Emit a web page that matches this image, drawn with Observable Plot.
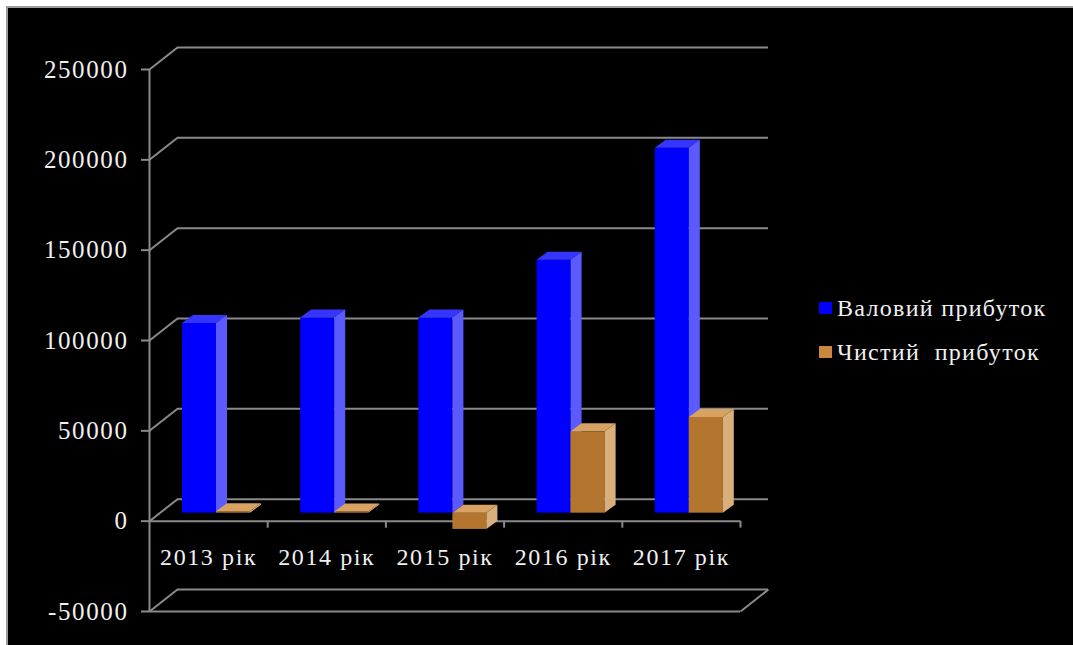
<!DOCTYPE html>
<html lang="uk">
<head>
<meta charset="utf-8">
<script src="https://cdn.jsdelivr.net/npm/d3@7"></script>
<script src="https://cdn.jsdelivr.net/npm/@observablehq/plot@0.6"></script>
<style>
  html, body { margin: 0; padding: 0; width: 1073px; height: 645px; overflow: hidden; background: #ffffff; position: relative; }
  #panel { position: absolute; left: 6px; top: 6px; right: 0; bottom: 0; background: #000; border-left: 2px solid #9c9c9c; border-top: 2px solid #9c9c9c; }
  #chart { position: absolute; left: 0; top: 0; }
  #legend { position: absolute; left: 819px; top: 288px; font-family: "Liberation Serif", "Times New Roman", serif; font-size: 24px; letter-spacing: 1.3px; color: #f0f0f0; }
  #legend .row { display: flex; align-items: center; height: 40px; margin-bottom: 4px; white-space: pre; }
  #legend .sw { width: 13px; height: 12px; margin-right: 5px; }
</style>
</head>
<body>
<div id="panel"></div>
<div id="chart"></div>
<div id="legend"></div>
<script>
// Gross and net profit by year
const years = ["2013 рік", "2014 рік", "2015 рік", "2016 рік", "2017 рік"];
const grossProfit = [105000, 108000, 108000, 140000, 202000];
const netProfit = [800, 600, -9000, 45000, 53000];
const yTicks = [-50000, 0, 50000, 100000, 150000, 200000, 250000];
const seriesNames = ["Валовий прибуток", "Чистий  прибуток"];

// Face colours for each series: front, top, side
const seriesColors = [
  {front: "#0000ff", top: "#3535ff", side: "#5a5aff", key: "#0000ff"},
  {front: "#b4762e", top: "#d7a262", side: "#d9b07c", key: "#c8873c"}
];

// Pseudo-3D geometry (pixels), converted to data units below
const W = 1073, H = 645;
const mL = 149, mR = 333, mT = 69, mB = 34;
const yMin = -50000, yMax = 250000;
const ux = years.length / (W - mL - mR);      // category units per pixel
const uy = (yMax - yMin) / (H - mT - mB);     // value units per pixel

const wallDX = 28 * ux, wallDY = 22 * uy;     // depth of the back wall
const barDX0 = 10 * ux, barDY0 = 8 * uy;      // bars sit a little behind the front edge
const barDX = 11 * ux, barDY = 8 * uy;        // depth of each bar
const barLeft = 23 * ux, barW = 34 * ux;

const series = [grossProfit, netProfit];
const bars = series.map((vals, s) => vals.map((v, i) => {
  const xl = i + barLeft + s * barW + barDX0;
  return {id: s + "-" + i, s, v, xl, xr: xl + barW,
          yb: Math.min(v, 0) + barDY0, yt: Math.max(v, 0) + barDY0};
}));

const topPts = b => b.flatMap(d => [
  {id: d.id, y: d.yt, x1: d.xl, x2: d.xr},
  {id: d.id, y: d.yt + barDY, x1: d.xl + barDX, x2: d.xr + barDX}
]);
const sidePts = b => b.flatMap(d => [
  {id: d.id, x: d.xr, y1: d.yb, y2: d.yt},
  {id: d.id, x: d.xr + barDX, y1: d.yb + barDY, y2: d.yt + barDY}
]);

const grid = "#8a8a8a";
const textColor = "#f0f0f0";
const catTicks = d3.range(1, years.length + 1);

const barMarks = bars.flatMap((b, s) => [
  Plot.rect(b, {x1: "xl", x2: "xr", y1: "yb", y2: "yt", fill: seriesColors[s].front}),
  Plot.areaX(topPts(b), {y: "y", x1: "x1", x2: "x2", z: "id", fill: seriesColors[s].top}),
  Plot.areaY(sidePts(b), {x: "x", y1: "y1", y2: "y2", z: "id", fill: seriesColors[s].side})
]);

const chart = Plot.plot({
  width: W, height: H,
  marginLeft: mL, marginRight: mR, marginTop: mT, marginBottom: mB,
  x: {type: "linear", domain: [0, years.length], axis: null},
  y: {type: "linear", domain: [yMin, yMax], axis: null},
  style: {background: "none", overflow: "visible", fontFamily: "'Liberation Serif', 'Times New Roman', serif", letterSpacing: "1.6px"},
  marks: [
    // back wall gridlines and the side-wall slants
    Plot.ruleY(yTicks, {y: d => d + wallDY, x1: wallDX, x2: years.length + wallDX, stroke: grid, strokeWidth: 2}),
    Plot.link(yTicks, {x1: 0, y1: d => d, x2: wallDX, y2: d => d + wallDY, stroke: grid, strokeWidth: 2}),
    // floor edge at the minimum
    Plot.ruleY([yMin], {x1: 0, x2: years.length, stroke: grid, strokeWidth: 2}),
    Plot.link([yMin], {x1: years.length, y1: d => d, x2: years.length + wallDX, y2: d => d + wallDY, stroke: grid, strokeWidth: 2}),
    // category axis along zero
    Plot.ruleY([0], {x1: 0, x2: years.length, stroke: grid, strokeWidth: 2}),
    Plot.ruleX(catTicks, {y1: 0, y2: -7 * uy, stroke: grid, strokeWidth: 2}),
    // value axis
    Plot.ruleX([0], {y1: yMin, y2: yMax, stroke: grid, strokeWidth: 2}),
    Plot.ruleY(yTicks, {x1: -8 * ux, x2: 0, stroke: grid, strokeWidth: 2}),
    Plot.text(yTicks, {x: 0, y: d => d, dx: -21, textAnchor: "end", text: d => String(d), fill: textColor, fontSize: 25}),
    Plot.text(years, {x: (d, i) => i + 0.5, y: 0, dy: 36, text: d => d, fill: textColor, fontSize: 24}),
    ...barMarks
  ]
});
document.getElementById("chart").append(chart);

// Legend
const legend = document.getElementById("legend");
seriesNames.forEach((name, s) => {
  const row = document.createElement("div");
  row.className = "row";
  const sw = document.createElement("span");
  sw.className = "sw";
  sw.style.background = seriesColors[s].key;
  const label = document.createElement("span");
  label.textContent = name;
  row.append(sw, label);
  legend.append(row);
});
</script>
</body>
</html>
